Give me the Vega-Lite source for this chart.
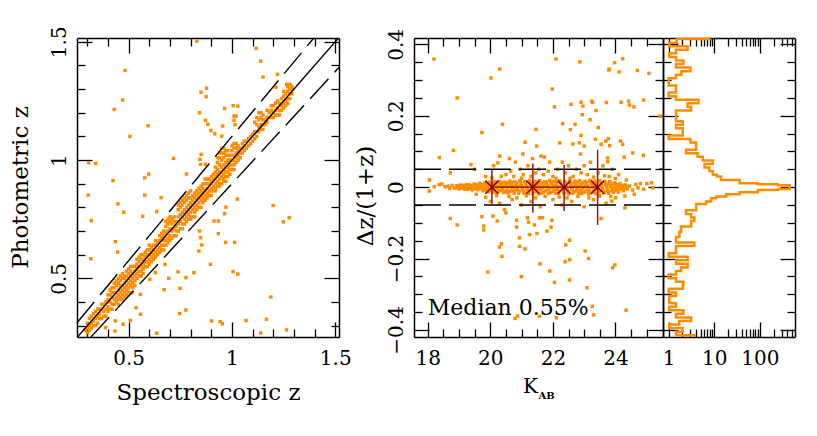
{
"$schema":"https://vega.github.io/schema/vega-lite/v6.json",
"background":"white",
"padding":{"left":9,"top":25,"right":5,"bottom":5},
"bounds":"flush",
"spacing":75,
"config":{"view":{"stroke":null},"axis":{"labelFont":"DejaVu Serif","labelFontSize":20,"titleFont":"DejaVu Serif","titleFontSize":23,"titleFontWeight":"normal","titleColor":"black","labelColor":"black","domainColor":"black","tickColor":"black","domainWidth":1.5,"tickWidth":1.3,"grid":false,"labelFlush":false,"labelOverlap":false,"labelBound":false}},
"datasets":{
"left":[
{"x":0.83,"y":1.503},{"x":1.117,"y":1.472},{"x":1.139,"y":1.418},{"x":1.15,"y":1.351},{"x":1.22,"y":1.362},{"x":1.213,"y":1.308},{"x":1.265,"y":1.32},{"x":0.482,"y":1.379},{"x":0.471,"y":1.254},{"x":0.43,"y":1.214},{"x":0.85,"y":1.287},{"x":0.877,"y":1.303},{"x":0.875,"y":1.268},{"x":0.843,"y":1.2},{"x":0.872,"y":1.168},{"x":0.883,"y":1.151},{"x":0.898,"y":1.125},{"x":0.917,"y":1.111},{"x":0.955,"y":1.144},{"x":0.95,"y":1.101},{"x":0.964,"y":1.218},{"x":1.006,"y":1.23},{"x":1.029,"y":1.228},{"x":1.01,"y":1.186},{"x":1.02,"y":1.186},{"x":1.01,"y":1.168},{"x":1.015,"y":1.15},{"x":0.594,"y":1.145},{"x":0.506,"y":1.1},{"x":0.306,"y":0.989},{"x":0.34,"y":0.986},{"x":0.424,"y":0.913},{"x":0.304,"y":0.852},{"x":0.448,"y":0.815},{"x":0.476,"y":0.779},{"x":0.319,"y":0.744},{"x":0.317,"y":0.583},{"x":0.435,"y":0.655},{"x":0.447,"y":0.611},{"x":0.578,"y":0.925},{"x":0.597,"y":0.941},{"x":0.578,"y":0.852},{"x":0.568,"y":0.762},{"x":0.636,"y":0.782},{"x":0.657,"y":0.841},{"x":0.717,"y":1.007},{"x":0.78,"y":0.941},{"x":0.845,"y":1.003},{"x":0.848,"y":0.982},{"x":0.872,"y":0.982},{"x":0.851,"y":1.024},
{"x":1.199,"y":0.808},{"x":1.277,"y":0.756},{"x":1.249,"y":0.739},{"x":1.026,"y":0.835},{"x":0.971,"y":0.801},{"x":0.964,"y":0.773},{"x":0.913,"y":0.742},{"x":0.935,"y":0.742},{"x":0.934,"y":0.689},{"x":0.969,"y":0.652},{"x":1.013,"y":0.652},{"x":0.843,"y":0.7},{"x":0.848,"y":0.672},{"x":0.84,"y":0.615},{"x":0.854,"y":0.641},{"x":0.896,"y":0.559},{"x":1.005,"y":0.528},{"x":1.028,"y":0.518},{"x":0.739,"y":0.527},{"x":0.816,"y":0.524},{"x":0.777,"y":0.503},{"x":0.694,"y":0.5},{"x":0.748,"y":0.458},{"x":0.672,"y":0.452},{"x":0.676,"y":0.559},{"x":1.188,"y":0.421},{"x":0.777,"y":0.366},{"x":0.746,"y":0.351},{"x":0.901,"y":0.32},{"x":0.943,"y":0.317},{"x":0.953,"y":0.308},{"x":1.068,"y":0.322},{"x":1.167,"y":0.327},{"x":1.139,"y":0.269},{"x":1.264,"y":0.282},{"x":0.636,"y":0.268},{"x":0.434,"y":0.277},{"x":0.508,"y":0.322},{"x":0.473,"y":0.306},{"x":0.557,"y":0.348},{"x":0.536,"y":0.376},{"x":0.435,"y":0.32},{"x":0.388,"y":0.292},{"x":0.602,"y":0.496},{"x":0.629,"y":0.524},{"x":0.557,"y":0.432},{"x":0.516,"y":0.439},
{"x":0.29,"y":0.28},{"x":0.30,"y":0.31},{"x":0.30,"y":0.29},{"x":0.31,"y":0.33},{"x":0.31,"y":0.30},{"x":0.32,"y":0.31},{"x":0.32,"y":0.34},{"x":0.33,"y":0.32},{"x":0.33,"y":0.30},{"x":0.34,"y":0.36},{"x":0.34,"y":0.33},{"x":0.35,"y":0.34},{"x":0.35,"y":0.31},{"x":0.36,"y":0.37},{"x":0.36,"y":0.35},{"x":0.37,"y":0.33},{"x":0.37,"y":0.37},{"x":0.38,"y":0.36},{"x":0.38,"y":0.39},{"x":0.39,"y":0.34},{"x":0.39,"y":0.40},{"x":0.40,"y":0.38},{"x":0.40,"y":0.41},{"x":0.41,"y":0.40},{"x":0.41,"y":0.43},{"x":0.42,"y":0.39},{"x":0.42,"y":0.44},{"x":0.42,"y":0.42},{"x":0.43,"y":0.41},{"x":0.43,"y":0.44},{"x":0.43,"y":0.46},{"x":0.44,"y":0.42},{"x":0.44,"y":0.44},{"x":0.44,"y":0.47},{"x":0.45,"y":0.43},{"x":0.45,"y":0.45},{"x":0.45,"y":0.41},{"x":0.45,"y":0.48},{"x":0.46,"y":0.44},{"x":0.46,"y":0.46},{"x":0.46,"y":0.49},{"x":0.47,"y":0.45},{"x":0.47,"y":0.47},{"x":0.47,"y":0.43},{"x":0.47,"y":0.50},{"x":0.48,"y":0.46},{"x":0.48,"y":0.48},{"x":0.48,"y":0.44},{"x":0.49,"y":0.47},{"x":0.49,"y":0.49},{"x":0.49,"y":0.51},{"x":0.50,"y":0.48},{"x":0.50,"y":0.50},{"x":0.50,"y":0.52},{"x":0.51,"y":0.49},{"x":0.51,"y":0.51},{"x":0.51,"y":0.53},{"x":0.52,"y":0.50},{"x":0.52,"y":0.52},{"x":0.52,"y":0.55},{"x":0.53,"y":0.51},{"x":0.53,"y":0.53},{"x":0.53,"y":0.49},{"x":0.54,"y":0.52},{"x":0.54,"y":0.54},{"x":0.54,"y":0.56},{"x":0.55,"y":0.53},{"x":0.55,"y":0.55},{"x":0.55,"y":0.57},{"x":0.56,"y":0.55},{"x":0.56,"y":0.53},{"x":0.56,"y":0.58},{"x":0.57,"y":0.56},{"x":0.57,"y":0.58},{"x":0.57,"y":0.54},{"x":0.58,"y":0.57},{"x":0.58,"y":0.59},{"x":0.59,"y":0.57},{"x":0.59,"y":0.60},{"x":0.60,"y":0.58},{"x":0.60,"y":0.60},{"x":0.60,"y":0.62},{"x":0.61,"y":0.59},{"x":0.61,"y":0.61},{"x":0.62,"y":0.60},{"x":0.62,"y":0.62},{"x":0.63,"y":0.61},{"x":0.63,"y":0.64},{"x":0.64,"y":0.62},{"x":0.64,"y":0.65},{"x":0.65,"y":0.63},{"x":0.65,"y":0.66},{"x":0.66,"y":0.64},{"x":0.66,"y":0.67},{"x":0.66,"y":0.62},{"x":0.67,"y":0.66},{"x":0.67,"y":0.68},{"x":0.67,"y":0.64},{"x":0.68,"y":0.66},{"x":0.68,"y":0.69},{"x":0.68,"y":0.72},{"x":0.69,"y":0.67},{"x":0.69,"y":0.70},{"x":0.69,"y":0.73},{"x":0.70,"y":0.68},{"x":0.70,"y":0.71},{"x":0.70,"y":0.74},{"x":0.71,"y":0.70},{"x":0.71,"y":0.73},{"x":0.72,"y":0.71},{"x":0.72,"y":0.74},{"x":0.73,"y":0.70},{"x":0.73,"y":0.72},{"x":0.74,"y":0.73},{"x":0.74,"y":0.76},{"x":0.74,"y":0.79},{"x":0.75,"y":0.74},{"x":0.75,"y":0.77},{"x":0.75,"y":0.80},{"x":0.76,"y":0.73},{"x":0.76,"y":0.76},{"x":0.76,"y":0.78},{"x":0.76,"y":0.81},{"x":0.77,"y":0.75},{"x":0.77,"y":0.77},{"x":0.77,"y":0.79},{"x":0.77,"y":0.82},{"x":0.78,"y":0.76},{"x":0.78,"y":0.78},{"x":0.78,"y":0.80},{"x":0.78,"y":0.83},{"x":0.79,"y":0.77},{"x":0.79,"y":0.79},{"x":0.79,"y":0.81},{"x":0.79,"y":0.84},{"x":0.80,"y":0.78},{"x":0.80,"y":0.80},{"x":0.80,"y":0.82},{"x":0.80,"y":0.75},{"x":0.81,"y":0.79},{"x":0.81,"y":0.81},{"x":0.81,"y":0.83},{"x":0.82,"y":0.80},{"x":0.82,"y":0.82},{"x":0.82,"y":0.78},{"x":0.83,"y":0.81},{"x":0.83,"y":0.83},{"x":0.83,"y":0.85},{"x":0.84,"y":0.82},{"x":0.84,"y":0.84},{"x":0.84,"y":0.86},{"x":0.85,"y":0.83},{"x":0.85,"y":0.85},{"x":0.85,"y":0.87},{"x":0.85,"y":0.80},{"x":0.86,"y":0.84},{"x":0.86,"y":0.86},{"x":0.86,"y":0.88},{"x":0.87,"y":0.85},{"x":0.87,"y":0.87},{"x":0.87,"y":0.90},{"x":0.88,"y":0.86},{"x":0.88,"y":0.88},{"x":0.89,"y":0.87},{"x":0.89,"y":0.90},{"x":0.90,"y":0.88},{"x":0.90,"y":0.91},{"x":0.90,"y":0.85},{"x":0.91,"y":0.89},{"x":0.91,"y":0.92},{"x":0.92,"y":0.90},{"x":0.92,"y":0.93},{"x":0.92,"y":0.87},{"x":0.93,"y":0.91},{"x":0.93,"y":0.94},{"x":0.93,"y":0.96},{"x":0.93,"y":0.99},{"x":0.94,"y":0.92},{"x":0.94,"y":0.95},{"x":0.94,"y":0.98},{"x":0.94,"y":1.01},{"x":0.94,"y":0.89},{"x":0.95,"y":0.93},{"x":0.95,"y":0.95},{"x":0.95,"y":0.97},{"x":0.95,"y":1.00},{"x":0.95,"y":1.03},{"x":0.95,"y":0.90},{"x":0.96,"y":0.94},{"x":0.96,"y":0.96},{"x":0.96,"y":0.98},{"x":0.96,"y":1.01},{"x":0.96,"y":0.91},{"x":0.97,"y":0.95},{"x":0.97,"y":0.97},{"x":0.97,"y":0.99},{"x":0.97,"y":1.02},{"x":0.97,"y":0.93},{"x":0.98,"y":0.97},{"x":0.98,"y":0.99},{"x":0.98,"y":0.95},{"x":0.98,"y":1.00},{"x":0.99,"y":0.98},{"x":0.99,"y":1.00},{"x":0.99,"y":0.96},{"x":1.00,"y":0.98},{"x":1.00,"y":1.00},{"x":1.00,"y":1.02},{"x":1.00,"y":1.04},{"x":1.01,"y":1.00},{"x":1.01,"y":1.02},{"x":1.01,"y":1.05},{"x":1.01,"y":0.98},{"x":1.02,"y":1.01},{"x":1.02,"y":1.03},{"x":1.02,"y":0.99},{"x":1.03,"y":1.02},{"x":1.03,"y":1.04},{"x":1.04,"y":1.03},{"x":1.05,"y":1.05},{"x":1.05,"y":1.03},{"x":1.06,"y":1.06},{"x":1.07,"y":1.08},{"x":1.07,"y":1.05},{"x":1.08,"y":1.09},{"x":1.09,"y":1.07},{"x":1.10,"y":1.11},{"x":1.10,"y":1.08},{"x":1.11,"y":1.12},{"x":1.11,"y":1.16},{"x":1.12,"y":1.12},{"x":1.12,"y":1.15},{"x":1.12,"y":1.18},{"x":1.13,"y":1.14},{"x":1.13,"y":1.17},{"x":1.13,"y":1.20},{"x":1.14,"y":1.15},{"x":1.14,"y":1.13},{"x":1.14,"y":1.18},{"x":1.15,"y":1.15},{"x":1.15,"y":1.19},{"x":1.16,"y":1.17},{"x":1.17,"y":1.18},{"x":1.18,"y":1.20},{"x":1.19,"y":1.21},{"x":1.20,"y":1.20},{"x":1.20,"y":1.18},{"x":1.21,"y":1.21},{"x":1.21,"y":1.19},{"x":1.22,"y":1.22},{"x":1.22,"y":1.25},{"x":1.23,"y":1.21},{"x":1.23,"y":1.24},{"x":1.24,"y":1.23},{"x":1.24,"y":1.26},{"x":1.25,"y":1.24},{"x":1.25,"y":1.27},{"x":1.26,"y":1.25},{"x":1.26,"y":1.28},{"x":1.27,"y":1.26},{"x":1.27,"y":1.29},{"x":1.28,"y":1.30},{"x":1.28,"y":1.28},{"x":1.29,"y":1.31},{"x":1.29,"y":1.28},
{"x":0.30,"y":0.27},{"x":0.31,"y":0.28},{"x":0.32,"y":0.29},{"x":0.33,"y":0.35},{"x":0.34,"y":0.30},{"x":0.35,"y":0.37},{"x":0.36,"y":0.33},{"x":0.37,"y":0.39},{"x":0.38,"y":0.34},{"x":0.39,"y":0.37},{"x":0.40,"y":0.36},{"x":0.40,"y":0.43},{"x":0.41,"y":0.37},{"x":0.41,"y":0.45},{"x":0.42,"y":0.37},{"x":0.42,"y":0.46},{"x":0.43,"y":0.39},{"x":0.43,"y":0.48},{"x":0.44,"y":0.40},{"x":0.44,"y":0.49},{"x":0.45,"y":0.39},{"x":0.45,"y":0.50},{"x":0.46,"y":0.41},{"x":0.46,"y":0.42},{"x":0.46,"y":0.47},{"x":0.46,"y":0.51},{"x":0.47,"y":0.41},{"x":0.47,"y":0.52},{"x":0.48,"y":0.42},{"x":0.48,"y":0.51},{"x":0.48,"y":0.50},{"x":0.49,"y":0.43},{"x":0.49,"y":0.45},{"x":0.49,"y":0.53},{"x":0.50,"y":0.44},{"x":0.50,"y":0.46},{"x":0.50,"y":0.54},{"x":0.51,"y":0.47},{"x":0.51,"y":0.55},{"x":0.52,"y":0.48},{"x":0.52,"y":0.46},{"x":0.53,"y":0.47},{"x":0.53,"y":0.55},{"x":0.54,"y":0.50},{"x":0.54,"y":0.58},{"x":0.55,"y":0.51},{"x":0.55,"y":0.59},{"x":0.56,"y":0.51},{"x":0.56,"y":0.60},{"x":0.57,"y":0.52},{"x":0.57,"y":0.60},{"x":0.58,"y":0.55},{"x":0.58,"y":0.61},{"x":0.59,"y":0.55},{"x":0.59,"y":0.62},{"x":0.60,"y":0.56},{"x":0.60,"y":0.64},{"x":0.61,"y":0.57},{"x":0.61,"y":0.63},{"x":0.62,"y":0.58},{"x":0.62,"y":0.64},{"x":0.63,"y":0.59},{"x":0.63,"y":0.66},{"x":0.64,"y":0.60},{"x":0.65,"y":0.61},{"x":0.65,"y":0.68},{"x":0.66,"y":0.69},{"x":0.67,"y":0.62},{"x":0.67,"y":0.70},{"x":0.68,"y":0.64},{"x":0.68,"y":0.74},{"x":0.69,"y":0.65},{"x":0.69,"y":0.75},{"x":0.70,"y":0.66},{"x":0.70,"y":0.76},{"x":0.71,"y":0.67},{"x":0.71,"y":0.75},{"x":0.72,"y":0.68},{"x":0.72,"y":0.76},{"x":0.73,"y":0.74},{"x":0.73,"y":0.68},{"x":0.74,"y":0.70},{"x":0.74,"y":0.81},{"x":0.75,"y":0.71},{"x":0.75,"y":0.82},{"x":0.76,"y":0.71},{"x":0.76,"y":0.83},{"x":0.77,"y":0.73},{"x":0.77,"y":0.84},{"x":0.78,"y":0.74},{"x":0.78,"y":0.85},{"x":0.79,"y":0.75},{"x":0.79,"y":0.86},{"x":0.80,"y":0.76},{"x":0.80,"y":0.84},{"x":0.80,"y":0.87},{"x":0.81,"y":0.76},{"x":0.81,"y":0.85},{"x":0.82,"y":0.76},{"x":0.82,"y":0.84},{"x":0.82,"y":0.86},{"x":0.83,"y":0.79},{"x":0.83,"y":0.87},{"x":0.84,"y":0.80},{"x":0.84,"y":0.88},{"x":0.85,"y":0.89},{"x":0.86,"y":0.82},{"x":0.86,"y":0.90},{"x":0.87,"y":0.83},{"x":0.87,"y":0.92},{"x":0.88,"y":0.84},{"x":0.88,"y":0.90},{"x":0.88,"y":0.92},{"x":0.89,"y":0.85},{"x":0.89,"y":0.92},{"x":0.90,"y":0.87},{"x":0.90,"y":0.93},{"x":0.91,"y":0.87},{"x":0.91,"y":0.94},{"x":0.92,"y":0.88},{"x":0.92,"y":0.95},{"x":0.92,"y":0.97},{"x":0.93,"y":0.89},{"x":0.93,"y":1.01},{"x":0.94,"y":1.03},{"x":0.94,"y":0.90},{"x":0.95,"y":1.05},{"x":0.96,"y":1.03},{"x":0.96,"y":1.05},{"x":0.96,"y":0.92},{"x":0.97,"y":1.04},{"x":0.97,"y":0.91},{"x":0.98,"y":1.02},{"x":0.98,"y":1.04},{"x":0.98,"y":0.93},{"x":0.99,"y":1.02},{"x":0.99,"y":0.94},{"x":1.00,"y":1.06},{"x":1.00,"y":0.96},{"x":1.01,"y":1.07},{"x":1.01,"y":0.96},{"x":1.02,"y":1.05},{"x":1.02,"y":1.07},{"x":1.03,"y":1.00},{"x":1.03,"y":1.06},{"x":1.04,"y":1.05},{"x":1.04,"y":1.01},{"x":1.05,"y":1.07},{"x":1.06,"y":1.04},{"x":1.06,"y":1.08},{"x":1.08,"y":1.06},{"x":1.09,"y":1.10},{"x":1.11,"y":1.09},{"x":1.12,"y":1.10},{"x":1.13,"y":1.12},{"x":1.14,"y":1.20},{"x":1.15,"y":1.13},{"x":1.15,"y":1.17},{"x":1.16,"y":1.15},{"x":1.17,"y":1.16},{"x":1.17,"y":1.21},{"x":1.18,"y":1.18},{"x":1.19,"y":1.18},{"x":1.19,"y":1.23},{"x":1.20,"y":1.23},{"x":1.21,"y":1.24},{"x":1.22,"y":1.19},{"x":1.23,"y":1.19},{"x":1.24,"y":1.21},{"x":1.25,"y":1.22},{"x":1.25,"y":1.29},{"x":1.26,"y":1.23},{"x":1.27,"y":1.24},{"x":1.27,"y":1.31},{"x":1.28,"y":1.26},{"x":1.28,"y":1.32},{"x":1.29,"y":1.30}
],
"mid":[
{"x":18.2,"y":0.359},{"x":20.02,"y":0.306},{"x":20.3,"y":0.331},{"x":18.94,"y":0.25},{"x":22.1,"y":0.359},{"x":22.86,"y":0.351},{"x":21.98,"y":0.275},{"x":23.79,"y":0.328},{"x":23.8,"y":0.331},{"x":23.97,"y":0.349},{"x":24.23,"y":0.36},{"x":24.12,"y":0.323},{"x":24.7,"y":0.327},{"x":25.07,"y":0.319},{"x":22.05,"y":0.225},{"x":22.58,"y":0.232},{"x":22.9,"y":0.238},{"x":22.96,"y":0.227},{"x":23.24,"y":0.241},{"x":23.27,"y":0.238},{"x":23.38,"y":0.215},{"x":23.71,"y":0.237},{"x":24.18,"y":0.238},{"x":24.42,"y":0.241},{"x":24.44,"y":0.23},{"x":24.59,"y":0.225},{"x":24.9,"y":0.244},{"x":25.43,"y":0.199},{"x":22.94,"y":0.203},{"x":23.19,"y":0.189},{"x":22.31,"y":0.178},{"x":22.71,"y":0.176},{"x":22.56,"y":0.161},{"x":21.46,"y":0.162},{"x":20.39,"y":0.176},{"x":19.73,"y":0.153},{"x":23.45,"y":0.167},{"x":22.9,"y":0.145},{"x":22.22,"y":0.124},{"x":22.85,"y":0.124},{"x":22.64,"y":0.121},{"x":23.0,"y":0.115},{"x":21.11,"y":0.126},{"x":21.48,"y":0.115},{"x":23.36,"y":0.134},{"x":23.54,"y":0.12},{"x":23.77,"y":0.136},{"x":23.69,"y":0.129},{"x":23.81,"y":0.116},{"x":24.16,"y":0.129},{"x":24.23,"y":0.12},{"x":18.82,"y":0.103},{"x":18.37,"y":0.083},{"x":21.04,"y":0.093},{"x":21.62,"y":0.087},{"x":21.73,"y":0.084},{"x":22.88,"y":0.093},{"x":24.55,"y":0.096},{"x":24.89,"y":0.089},{"x":24.28,"y":0.084},{"x":23.75,"y":0.082},{"x":23.75,"y":0.071},{"x":20.3,"y":0.087},{"x":20.24,"y":0.068},{"x":20.61,"y":0.08},{"x":19.38,"y":0.063},
{"x":19.5,"y":0.05},{"x":18.72,"y":0.04},{"x":19.85,"y":0.03},{"x":20.1,"y":0.06},{"x":20.8,"y":0.07},{"x":20.95,"y":0.05},{"x":21.2,"y":0.06},{"x":21.35,"y":0.08},{"x":21.55,"y":0.05},{"x":21.9,"y":0.07},{"x":22.15,"y":0.05},{"x":22.3,"y":0.07},{"x":22.5,"y":0.06},{"x":22.75,"y":0.05},{"x":23.0,"y":0.06},{"x":23.2,"y":0.07},{"x":23.6,"y":0.06},{"x":23.9,"y":0.05},{"x":24.1,"y":0.035},{"x":20.5,"y":0.035},{"x":20.75,"y":0.03},{"x":21.05,"y":0.035},{"x":21.3,"y":0.03},{"x":21.7,"y":0.035},{"x":22.0,"y":0.03},{"x":22.4,"y":0.04},{"x":22.65,"y":0.03},{"x":23.1,"y":0.035},{"x":23.45,"y":0.04},{"x":23.8,"y":0.03},{"x":20.0,"y":-0.04},{"x":20.3,"y":-0.045},{"x":20.7,"y":-0.035},{"x":21.0,"y":-0.05},{"x":21.3,"y":-0.04},{"x":21.6,"y":-0.055},{"x":22.0,"y":-0.035},{"x":22.3,"y":-0.05},{"x":22.6,"y":-0.04},{"x":23.0,"y":-0.055},{"x":23.3,"y":-0.035},{"x":23.7,"y":-0.045},{"x":24.0,"y":-0.03},{"x":24.3,"y":-0.025},{"x":24.6,"y":-0.02},
{"x":18.72,"y":-0.088},{"x":18.94,"y":-0.106},{"x":19.79,"y":-0.109},{"x":19.79,"y":-0.12},{"x":19.73,"y":-0.083},{"x":20.08,"y":-0.081},{"x":20.22,"y":-0.095},{"x":20.45,"y":-0.063},{"x":20.5,"y":-0.072},{"x":20.84,"y":-0.093},{"x":20.84,"y":-0.112},{"x":21.19,"y":-0.086},{"x":21.22,"y":-0.098},{"x":21.41,"y":-0.106},{"x":21.57,"y":-0.086},{"x":21.67,"y":-0.086},{"x":21.81,"y":-0.123},{"x":21.49,"y":-0.13},{"x":21.97,"y":-0.093},{"x":21.94,"y":-0.112},{"x":20.93,"y":-0.142},{"x":21.25,"y":-0.133},{"x":20.35,"y":-0.159},{"x":20.29,"y":-0.168},{"x":20.93,"y":-0.166},{"x":21.11,"y":-0.173},{"x":20.37,"y":-0.194},{"x":22.53,"y":-0.149},{"x":22.41,"y":-0.162},{"x":23.03,"y":-0.179},{"x":23.14,"y":-0.2},{"x":22.54,"y":-0.203},{"x":22.39,"y":-0.209},{"x":21.59,"y":-0.215},{"x":23.98,"y":-0.218},{"x":23.91,"y":-0.226},{"x":21.9,"y":-0.235},{"x":19.92,"y":-0.238},{"x":20.99,"y":-0.251},{"x":22.05,"y":-0.267},{"x":22.53,"y":-0.26},{"x":23.09,"y":-0.282},{"x":23.26,"y":-0.334},{"x":23.3,"y":-0.358},{"x":24.34,"y":-0.345},{"x":20.79,"y":-0.368},{"x":20.87,"y":-0.361},{"x":21.57,"y":-0.362},{"x":22.11,"y":-0.366},{"x":23.54,"y":-0.088},{"x":24.3,"y":-0.058},{"x":23.88,"y":-0.039},
{"x":18.05,"y":0.02},{"x":18.05,"y":-0.011},{"x":18.21,"y":0.001},{"x":18.37,"y":0.007},{"x":18.45,"y":0.009},{"x":18.55,"y":0.001},
{"x":18.65,"y":0.003},{"x":18.7,"y":-0.004},{"x":18.78,"y":0.005},{"x":18.85,"y":-0.003},{"x":18.92,"y":0.004},{"x":19.0,"y":-0.005},{"x":19.05,"y":0.006},{"x":19.12,"y":0.0},{"x":19.18,"y":-0.006},{"x":19.25,"y":0.007},{"x":19.3,"y":-0.002},{"x":19.36,"y":0.003},{"x":19.42,"y":-0.008},{"x":19.48,"y":0.009},{"x":19.54,"y":0.001},{"x":19.6,"y":-0.007},{"x":19.66,"y":0.011},{"x":19.72,"y":0.002},{"x":19.76,"y":-0.01},{"x":19.82,"y":0.012},{"x":19.86,"y":0.003},{"x":19.9,"y":-0.006},{"x":19.94,"y":-0.013},{"x":19.98,"y":0.014},{"x":20.02,"y":0.005},{"x":20.05,"y":-0.004},{"x":20.1,"y":-0.014},{"x":20.14,"y":0.015},{"x":20.18,"y":0.006},{"x":20.22,"y":-0.003},{"x":20.26,"y":-0.012},{"x":20.3,"y":0.016},{"x":20.34,"y":0.007},{"x":20.38,"y":-0.005},{"x":20.42,"y":-0.015},{"x":20.46,"y":0.014},{"x":20.5,"y":0.004},{"x":20.54,"y":-0.008},{"x":20.58,"y":-0.016},{"x":20.62,"y":0.017},{"x":20.66,"y":0.008},{"x":20.7,"y":-0.002},{"x":20.74,"y":-0.012},{"x":20.78,"y":0.015},{"x":20.82,"y":0.005},{"x":20.86,"y":-0.006},{"x":20.9,"y":-0.017},{"x":20.94,"y":0.018},{"x":20.98,"y":0.009},{"x":21.02,"y":-0.001},{"x":21.06,"y":-0.012},{"x":21.1,"y":0.016},{"x":21.14,"y":0.006},{"x":21.18,"y":-0.007},{"x":21.22,"y":-0.018},{"x":21.26,"y":0.019},{"x":21.3,"y":0.01},{"x":21.34,"y":0.0},{"x":21.38,"y":-0.013},{"x":21.42,"y":0.016},{"x":21.46,"y":0.007},{"x":21.5,"y":-0.006},{"x":21.54,"y":-0.019},{"x":21.58,"y":0.018},{"x":21.62,"y":0.009},{"x":21.66,"y":-0.002},{"x":21.7,"y":-0.014},{"x":21.74,"y":0.015},{"x":21.78,"y":0.005},{"x":21.82,"y":-0.008},{"x":21.86,"y":-0.018},{"x":21.9,"y":0.019},{"x":21.94,"y":0.01},{"x":21.98,"y":0.0},{"x":22.02,"y":-0.012},{"x":22.06,"y":0.016},{"x":22.1,"y":0.006},{"x":22.14,"y":-0.006},{"x":22.18,"y":-0.018},{"x":22.22,"y":0.018},{"x":22.26,"y":0.008},{"x":22.3,"y":-0.002},{"x":22.34,"y":-0.014},{"x":22.38,"y":0.016},{"x":22.42,"y":0.005},{"x":22.46,"y":-0.008},{"x":22.5,"y":-0.019},{"x":22.54,"y":0.019},{"x":22.58,"y":0.009},{"x":22.62,"y":0.0},{"x":22.66,"y":-0.012},{"x":22.7,"y":0.017},{"x":22.74,"y":0.006},{"x":22.78,"y":-0.006},{"x":22.82,"y":-0.018},{"x":22.86,"y":0.018},{"x":22.9,"y":0.008},{"x":22.94,"y":-0.003},{"x":22.98,"y":-0.014},{"x":23.02,"y":0.016},{"x":23.06,"y":0.005},{"x":23.1,"y":-0.008},{"x":23.14,"y":-0.019},{"x":23.18,"y":0.019},{"x":23.22,"y":0.01},{"x":23.26,"y":0.0},{"x":23.3,"y":-0.013},{"x":23.34,"y":0.017},{"x":23.38,"y":0.006},{"x":23.42,"y":-0.006},{"x":23.46,"y":-0.018},{"x":23.5,"y":0.018},{"x":23.54,"y":0.008},{"x":23.58,"y":-0.003},{"x":23.62,"y":-0.016},{"x":23.66,"y":0.016},{"x":23.7,"y":0.005},{"x":23.74,"y":-0.008},{"x":23.78,"y":-0.017},{"x":23.82,"y":0.015},{"x":23.86,"y":0.005},{"x":23.9,"y":-0.006},{"x":23.94,"y":-0.014},{"x":23.98,"y":0.012},{"x":24.02,"y":0.003},{"x":24.06,"y":-0.007},{"x":24.1,"y":-0.014},{"x":24.15,"y":0.01},{"x":24.2,"y":0.001},{"x":24.25,"y":-0.01},{"x":24.32,"y":0.006},{"x":24.38,"y":-0.005},{"x":24.45,"y":0.003},{"x":24.55,"y":-0.008},{"x":24.65,"y":0.008},{"x":24.72,"y":-0.002},{"x":24.8,"y":0.01},{"x":24.9,"y":-0.006},{"x":25.0,"y":0.01},{"x":25.15,"y":0.012},{"x":25.2,"y":-0.002},
{"x":18.9,"y":-0.002},{"x":18.98,"y":0.003},{"x":19.08,"y":-0.003},{"x":19.15,"y":0.005},{"x":19.22,"y":0.002},{"x":19.28,"y":-0.006},{"x":19.33,"y":0.006},{"x":19.38,"y":-0.003},{"x":19.44,"y":0.004},{"x":19.5,"y":-0.005},{"x":19.56,"y":0.006},{"x":19.62,"y":0.003},{"x":19.68,"y":-0.004},{"x":19.74,"y":0.007},{"x":19.79,"y":-0.003},{"x":19.84,"y":-0.008},{"x":19.88,"y":0.008},{"x":19.92,"y":-0.001},{"x":19.96,"y":0.009},{"x":20.0,"y":-0.009},{"x":20.04,"y":0.012},{"x":20.08,"y":0.002},{"x":20.12,"y":-0.009},{"x":20.16,"y":0.011},{"x":20.2,"y":-0.016},{"x":20.24,"y":0.013},{"x":20.28,"y":0.002},{"x":20.32,"y":-0.009},{"x":20.36,"y":0.012},{"x":20.4,"y":0.001},{"x":20.44,"y":-0.011},{"x":20.48,"y":0.009},{"x":20.52,"y":-0.013},{"x":20.56,"y":0.012},{"x":20.6,"y":0.002},{"x":20.64,"y":-0.011},{"x":20.68,"y":0.013},{"x":20.72,"y":0.003},{"x":20.76,"y":-0.017},{"x":20.8,"y":-0.008},{"x":20.84,"y":0.012},{"x":20.88,"y":0.002},{"x":20.92,"y":-0.011},{"x":20.96,"y":0.014},{"x":21.0,"y":0.004},{"x":21.04,"y":-0.008},{"x":21.08,"y":-0.017},{"x":21.12,"y":0.012},{"x":21.16,"y":0.001},{"x":21.2,"y":-0.012},{"x":21.24,"y":0.014},{"x":21.28,"y":0.004},{"x":21.32,"y":-0.008},{"x":21.36,"y":-0.018},{"x":21.4,"y":0.011},{"x":21.44,"y":0.002},{"x":21.48,"y":-0.012},{"x":21.52,"y":0.014},{"x":21.56,"y":0.004},{"x":21.6,"y":-0.008},{"x":21.64,"y":-0.017},{"x":21.68,"y":0.012},{"x":21.72,"y":0.002},{"x":21.76,"y":-0.011},{"x":21.8,"y":0.014},{"x":21.84,"y":0.004},{"x":21.88,"y":-0.005},{"x":21.92,"y":-0.015},{"x":21.96,"y":0.015},{"x":22.0,"y":0.005},{"x":22.04,"y":-0.007},{"x":22.08,"y":-0.017},{"x":22.12,"y":0.012},{"x":22.16,"y":0.001},{"x":22.2,"y":-0.011},{"x":22.24,"y":0.014},{"x":22.28,"y":0.003},{"x":22.32,"y":-0.008},{"x":22.36,"y":-0.018},{"x":22.4,"y":0.011},{"x":22.44,"y":0.001},{"x":22.48,"y":-0.013},{"x":22.52,"y":0.013},{"x":22.56,"y":0.004},{"x":22.6,"y":-0.007},{"x":22.64,"y":-0.017},{"x":22.68,"y":0.012},{"x":22.72,"y":0.002},{"x":22.76,"y":-0.011},{"x":22.8,"y":0.014},{"x":22.84,"y":0.003},{"x":22.88,"y":-0.009},{"x":22.92,"y":-0.018},{"x":22.96,"y":0.012},{"x":23.0,"y":0.001},{"x":23.04,"y":-0.012},{"x":23.08,"y":0.013},{"x":23.12,"y":0.003},{"x":23.16,"y":-0.008},{"x":23.2,"y":-0.016},{"x":23.24,"y":0.014},{"x":23.28,"y":0.004},{"x":23.32,"y":-0.007},{"x":23.36,"y":-0.018},{"x":23.4,"y":0.012},{"x":23.44,"y":0.002},{"x":23.48,"y":-0.011},{"x":23.52,"y":0.013},{"x":23.56,"y":0.003},{"x":23.6,"y":-0.009},{"x":23.64,"y":-0.015},{"x":23.68,"y":0.011},{"x":23.72,"y":0.001},{"x":23.76,"y":-0.012},{"x":23.8,"y":0.01},{"x":23.84,"y":0.001},{"x":23.88,"y":-0.011},{"x":23.92,"y":0.009},{"x":23.96,"y":-0.002},{"x":24.0,"y":-0.01},{"x":24.04,"y":0.007},{"x":24.08,"y":-0.002},{"x":24.12,"y":0.006},{"x":24.18,"y":-0.006},{"x":24.23,"y":0.005},{"x":24.28,"y":-0.003},{"x":24.35,"y":0.001},
{"x":19.55,"y":-0.02},{"x":19.85,"y":-0.028},{"x":20.2,"y":-0.024},{"x":20.6,"y":-0.026},{"x":20.85,"y":-0.03},{"x":21.15,"y":-0.024},{"x":21.45,"y":-0.03},{"x":21.75,"y":-0.026},{"x":22.2,"y":-0.028},{"x":22.45,"y":-0.03},{"x":22.8,"y":-0.026},{"x":23.15,"y":-0.03},{"x":23.5,"y":-0.025},{"x":23.85,"y":-0.026},{"x":20.05,"y":0.026},{"x":20.35,"y":0.03},{"x":20.65,"y":0.045},{"x":21.0,"y":0.025},{"x":21.45,"y":0.04},{"x":21.85,"y":0.045},{"x":22.1,"y":0.024},{"x":22.55,"y":0.025},{"x":22.9,"y":0.04},{"x":23.3,"y":0.028},{"x":23.65,"y":0.032},{"x":24.0,"y":0.024},{"x":24.35,"y":0.02}
],
"hist":[
{"i":1,"y":0.42,"c":7.8},{"i":2,"y":0.415,"c":7.8},{"i":3,"y":0.415,"c":1.5},{"i":4,"y":0.405,"c":1.5},{"i":5,"y":0.405,"c":1.03},{"i":6,"y":0.395,"c":1.03},{"i":7,"y":0.395,"c":2.6},{"i":8,"y":0.385,"c":2.6},{"i":9,"y":0.385,"c":1.45},{"i":10,"y":0.375,"c":1.45},{"i":11,"y":0.375,"c":1.03},{"i":12,"y":0.365,"c":1.03},{"i":13,"y":0.365,"c":1.45},{"i":14,"y":0.355,"c":1.45},{"i":15,"y":0.355,"c":2.1},{"i":16,"y":0.345,"c":2.1},{"i":17,"y":0.345,"c":1.45},{"i":18,"y":0.335,"c":1.45},{"i":19,"y":0.335,"c":3.0},{"i":20,"y":0.325,"c":3.0},{"i":21,"y":0.325,"c":1.9},{"i":22,"y":0.315,"c":1.9},{"i":23,"y":0.315,"c":1.45},{"i":24,"y":0.305,"c":1.45},{"i":25,"y":0.305,"c":1.0},{"i":26,"y":0.285,"c":1.0},{"i":27,"y":0.285,"c":1.45},{"i":28,"y":0.265,"c":1.45},{"i":29,"y":0.265,"c":1.0},{"i":30,"y":0.255,"c":1.0},{"i":31,"y":0.255,"c":1.45},{"i":32,"y":0.245,"c":1.45},{"i":33,"y":0.245,"c":4.5},{"i":34,"y":0.235,"c":4.5},{"i":35,"y":0.235,"c":2.6},{"i":36,"y":0.225,"c":2.6},{"i":37,"y":0.225,"c":3.1},{"i":38,"y":0.215,"c":3.1},{"i":39,"y":0.215,"c":1.45},{"i":40,"y":0.185,"c":1.45},{"i":41,"y":0.185,"c":2.03},{"i":42,"y":0.175,"c":2.03},{"i":43,"y":0.175,"c":1.45},{"i":44,"y":0.165,"c":1.45},{"i":45,"y":0.165,"c":2.03},{"i":46,"y":0.145,"c":2.03},{"i":47,"y":0.145,"c":1.0},{"i":48,"y":0.135,"c":1.0},{"i":49,"y":0.135,"c":3.0},{"i":50,"y":0.125,"c":3.0},{"i":51,"y":0.125,"c":4.0},{"i":52,"y":0.105,"c":4.0},{"i":53,"y":0.105,"c":2.4},{"i":54,"y":0.095,"c":2.4},{"i":55,"y":0.095,"c":4.3},{"i":56,"y":0.085,"c":4.3},{"i":57,"y":0.085,"c":5.6},{"i":58,"y":0.075,"c":5.6},{"i":59,"y":0.075,"c":9.3},{"i":60,"y":0.065,"c":9.3},{"i":61,"y":0.065,"c":6.1},{"i":62,"y":0.055,"c":6.1},{"i":63,"y":0.055,"c":7.8},{"i":64,"y":0.045,"c":7.8},{"i":65,"y":0.045,"c":9.3},{"i":66,"y":0.035,"c":9.3},{"i":67,"y":0.035,"c":11.4},{"i":68,"y":0.03,"c":11.4},{"i":69,"y":0.03,"c":14},{"i":70,"y":0.02,"c":14},{"i":71,"y":0.02,"c":36},{"i":72,"y":0.011,"c":36},{"i":73,"y":0.011,"c":90},{"i":74,"y":0.008,"c":90},{"i":75,"y":0.008,"c":248},{"i":76,"y":0.005,"c":248},{"i":77,"y":0.005,"c":449},{"i":78,"y":-0.005,"c":449},{"i":79,"y":-0.005,"c":248},{"i":80,"y":-0.008,"c":248},{"i":81,"y":-0.008,"c":90},{"i":82,"y":-0.014,"c":90},{"i":83,"y":-0.014,"c":36},{"i":84,"y":-0.02,"c":36},{"i":85,"y":-0.02,"c":18.2},{"i":86,"y":-0.026,"c":18.2},{"i":87,"y":-0.026,"c":11},{"i":88,"y":-0.031,"c":11},{"i":89,"y":-0.031,"c":8.5},{"i":90,"y":-0.04,"c":8.5},{"i":91,"y":-0.04,"c":6.6},{"i":92,"y":-0.047,"c":6.6},{"i":93,"y":-0.047,"c":4},{"i":94,"y":-0.065,"c":4},{"i":95,"y":-0.065,"c":2.4},{"i":96,"y":-0.075,"c":2.4},{"i":97,"y":-0.075,"c":3.1},{"i":98,"y":-0.085,"c":3.1},{"i":99,"y":-0.085,"c":3.66},{"i":100,"y":-0.095,"c":3.66},{"i":101,"y":-0.095,"c":3.1},{"i":102,"y":-0.11,"c":3.1},{"i":103,"y":-0.11,"c":1.87},{"i":104,"y":-0.125,"c":1.87},{"i":105,"y":-0.125,"c":1.72},{"i":106,"y":-0.14,"c":1.72},{"i":107,"y":-0.14,"c":1.45},{"i":108,"y":-0.155,"c":1.45},{"i":109,"y":-0.155,"c":3.66},{"i":110,"y":-0.165,"c":3.66},{"i":111,"y":-0.165,"c":1.45},{"i":112,"y":-0.185,"c":1.45},{"i":113,"y":-0.185,"c":1.0},{"i":114,"y":-0.195,"c":1.0},{"i":115,"y":-0.195,"c":2.6},{"i":116,"y":-0.205,"c":2.6},{"i":117,"y":-0.205,"c":1.45},{"i":118,"y":-0.215,"c":1.45},{"i":119,"y":-0.215,"c":2.6},{"i":120,"y":-0.225,"c":2.6},{"i":121,"y":-0.225,"c":1.87},{"i":122,"y":-0.235,"c":1.87},{"i":123,"y":-0.235,"c":1.45},{"i":124,"y":-0.245,"c":1.45},{"i":125,"y":-0.245,"c":1.0},{"i":126,"y":-0.255,"c":1.0},{"i":127,"y":-0.255,"c":1.45},{"i":128,"y":-0.265,"c":1.45},{"i":129,"y":-0.265,"c":2.1},{"i":130,"y":-0.275,"c":2.1},{"i":131,"y":-0.275,"c":2.03},{"i":132,"y":-0.285,"c":2.03},{"i":133,"y":-0.285,"c":1.0},{"i":134,"y":-0.295,"c":1.0},{"i":135,"y":-0.295,"c":1.45},{"i":136,"y":-0.305,"c":1.45},{"i":137,"y":-0.305,"c":1.03},{"i":138,"y":-0.325,"c":1.03},{"i":139,"y":-0.325,"c":1.45},{"i":140,"y":-0.335,"c":1.45},{"i":141,"y":-0.335,"c":1.03},{"i":142,"y":-0.345,"c":1.03},{"i":143,"y":-0.345,"c":2.1},{"i":144,"y":-0.355,"c":2.1},{"i":145,"y":-0.355,"c":1.45},{"i":146,"y":-0.365,"c":1.45},{"i":147,"y":-0.365,"c":3.1},{"i":148,"y":-0.375,"c":3.1},{"i":149,"y":-0.375,"c":1.7},{"i":150,"y":-0.385,"c":1.7},{"i":151,"y":-0.385,"c":1.03},{"i":152,"y":-0.395,"c":1.03},{"i":153,"y":-0.395,"c":2.03},{"i":154,"y":-0.405,"c":2.03},{"i":155,"y":-0.405,"c":1.45},{"i":156,"y":-0.415,"c":1.45},{"i":157,"y":-0.415,"c":3.66},{"i":158,"y":-0.42,"c":3.66}
]
},
"hconcat":[
{"width":262,"height":299,"layer":[
{"data":{"name":"left"},"mark":{"type":"square","size":12,"color":"#FF8C00","opacity":1},
"encoding":{"x":{"field":"x","type":"quantitative","scale":{"domain":[0.25,1.518],"nice":false},"axis":{"orient":"bottom","values":[0.5,1,1.5],"format":"~g","tickSize":-15,"labelPadding":26,"title":"Spectroscopic z","titleX":131,"titleY":55,"titleBaseline":"middle"}},
"y":{"field":"y","type":"quantitative","scale":{"domain":[0.252,1.516],"nice":false},"axis":{"orient":"left","values":[0.5,1,1.5],"format":"~g","tickSize":-15,"labelAngle":-90,"labelAlign":"center","labelBaseline":"bottom","labelPadding":23,"title":"Photometric z","titleX":-57,"titleY":149,"titleBaseline":"middle","titleAngle":-90}}}},
{"data":{"values":[{"x":0.25,"y":0.3125},{"x":1.396,"y":1.516}]},"mark":{"type":"line","color":"black","strokeWidth":1.4,"strokeDash":[27,9]},
"encoding":{"x":{"field":"x","type":"quantitative","scale":{"domain":[0.25,1.518],"nice":false},"axis":{"orient":"top","values":[0.5,1,1.5],"tickSize":-15,"labels":false,"title":null}},
"y":{"field":"y","type":"quantitative","scale":{"domain":[0.252,1.516],"nice":false},"axis":{"orient":"right","values":[0.5,1,1.5],"tickSize":-15,"labels":false,"title":null}}}},
{"data":{"values":[{"x":0.25,"y":0.25},{"x":1.516,"y":1.516}]},"mark":{"type":"line","color":"black","strokeWidth":1.4,"clip":true},
"encoding":{"x":{"field":"x","type":"quantitative","scale":{"domain":[0.25,1.518],"nice":false},"axis":{"orient":"bottom","values":[0.3,0.4,0.6,0.7,0.8,0.9,1.1,1.2,1.3,1.4],"tickSize":-8,"labels":false,"domain":false,"title":null}},
"y":{"field":"y","type":"quantitative","scale":{"domain":[0.252,1.516],"nice":false},"axis":{"orient":"left","values":[0.3,0.4,0.6,0.7,0.8,0.9,1.1,1.2,1.3,1.4],"tickSize":-8,"labels":false,"domain":false,"title":null}}}},
{"data":{"values":[{"x":0.317,"y":0.2515},{"x":1.518,"y":1.392}]},"mark":{"type":"line","color":"black","strokeWidth":1.4,"strokeDash":[27,9]},
"encoding":{"x":{"field":"x","type":"quantitative","scale":{"domain":[0.25,1.518],"nice":false},"axis":{"orient":"top","values":[0.3,0.4,0.6,0.7,0.8,0.9,1.1,1.2,1.3,1.4],"tickSize":-8,"labels":false,"domain":false,"title":null}},
"y":{"field":"y","type":"quantitative","scale":{"domain":[0.252,1.516],"nice":false},"axis":{"orient":"right","values":[0.3,0.4,0.6,0.7,0.8,0.9,1.1,1.2,1.3,1.4],"tickSize":-8,"labels":false,"domain":false,"title":null}}}}
],"resolve":{"axis":{"x":"independent","y":"independent"}}},
{"spacing":0,"bounds":"flush","hconcat":[
{"width":249,"height":299,"layer":[
{"data":{"name":"mid"},"mark":{"type":"square","size":12,"color":"#FF8C00","opacity":1},
"encoding":{"x":{"field":"x","type":"quantitative","scale":{"domain":[17.56,25.52],"nice":false},"axis":{"orient":"bottom","values":[18,20,22,24],"format":"d","tickSize":-15,"labelPadding":26,"title":"K","titleFontSize":20,"titleX":116,"titleY":49,"titleBaseline":"middle"}},
"y":{"field":"y","type":"quantitative","scale":{"domain":[-0.42,0.418],"nice":false},"axis":{"orient":"left","values":[-0.4,-0.2,0,0.2,0.4],"format":"~g","tickSize":-15,"labelAngle":-90,"labelAlign":"center","labelBaseline":"bottom","labelPadding":23,"title":"Δz/(1+z)","titleX":-49,"titleY":157.5,"titleBaseline":"middle","titleAngle":-90}}}},
{"data":{"values":[{"x":17.56,"y":0.05,"s":"up"},{"x":25.52,"y":0.05,"s":"up"},{"x":17.56,"y":-0.05,"s":"low"},{"x":25.52,"y":-0.05,"s":"low"}]},"mark":{"type":"line","color":"black","strokeWidth":1.4,"strokeDash":[27,8]},
"encoding":{"detail":{"field":"s"},"x":{"field":"x","type":"quantitative","scale":{"domain":[17.56,25.52],"nice":false},"axis":{"orient":"top","values":[18,20,22,24],"tickSize":-15,"labels":false,"title":null}},
"y":{"field":"y","type":"quantitative","scale":{"domain":[-0.42,0.418],"nice":false},"axis":{"orient":"right","values":[-0.4,-0.2,0,0.2,0.4],"tickSize":-15,"labels":false,"title":null}}}},
{"data":{"values":[{"x":20.05,"lo":-0.05,"hi":0.048},{"x":21.36,"lo":-0.072,"hi":0.066},{"x":22.36,"lo":-0.067,"hi":0.062},{"x":23.43,"lo":-0.106,"hi":0.105}]},"mark":{"type":"rule","color":"#8B1A1A","strokeWidth":1.5},
"encoding":{"x":{"field":"x","type":"quantitative","scale":{"domain":[17.56,25.52],"nice":false},"axis":{"orient":"bottom","values":[18.5,19,19.5,20.5,21,21.5,22.5,23,23.5,24.5,25],"tickSize":-8,"labels":false,"domain":false,"title":"AB","titleFontSize":10,"titleFontWeight":"bold","titleX":132,"titleY":58,"titleBaseline":"middle"}},
"y":{"field":"lo","type":"quantitative","scale":{"domain":[-0.42,0.418],"nice":false},"axis":{"orient":"left","values":[-0.35,-0.3,-0.25,-0.15,-0.1,-0.05,0.05,0.1,0.15,0.25,0.3,0.35],"tickSize":-8,"labels":false,"domain":false,"title":null}},"y2":{"field":"hi"}}},
{"data":{"values":[{"x":20.05,"y":0},{"x":21.36,"y":0},{"x":22.36,"y":0},{"x":23.43,"y":0}]},"mark":{"type":"line","color":"#8B0000","strokeWidth":1.4},
"encoding":{"x":{"field":"x","type":"quantitative","scale":{"domain":[17.56,25.52],"nice":false},"axis":{"orient":"top","values":[18.5,19,19.5,20.5,21,21.5,22.5,23,23.5,24.5,25],"tickSize":-8,"labels":false,"domain":false,"title":null}},
"y":{"field":"y","type":"quantitative","scale":{"domain":[-0.42,0.418],"nice":false},"axis":{"orient":"right","values":[-0.35,-0.3,-0.25,-0.15,-0.1,-0.05,0.05,0.1,0.15,0.25,0.3,0.35],"tickSize":-8,"labels":false,"domain":false,"title":null}}}},
{"data":{"values":[{"x":20.05,"y":0},{"x":21.36,"y":0},{"x":22.36,"y":0},{"x":23.43,"y":0}]},"mark":{"type":"point","shape":"M-1,-1L1,1M-1,1L1,-1","filled":false,"size":170,"color":"#8B0000","strokeWidth":1.5,"opacity":1},
"encoding":{"x":{"field":"x","type":"quantitative","scale":{"domain":[17.56,25.52],"nice":false},"axis":null},"y":{"field":"y","type":"quantitative","scale":{"domain":[-0.42,0.418],"nice":false},"axis":null}}},
{"data":{"values":[{"x":18.0,"y":-0.34,"t":"Median 0.55%"}]},"mark":{"type":"text","font":"DejaVu Serif","fontSize":22,"align":"left","baseline":"middle","color":"black"},
"encoding":{"x":{"field":"x","type":"quantitative","scale":{"domain":[17.56,25.52],"nice":false},"axis":null},"y":{"field":"y","type":"quantitative","scale":{"domain":[-0.42,0.418],"nice":false},"axis":null},"text":{"field":"t"}}}
],"resolve":{"axis":{"x":"independent","y":"independent"}}},
{"width":132,"height":299,"layer":[
{"data":{"name":"hist"},"mark":{"type":"line","color":"#FF8C00","strokeWidth":2.5,"clip":false},
"encoding":{"order":{"field":"i"},"x":{"field":"c","type":"quantitative","scale":{"type":"log","domain":[0.75,588],"nice":false},"axis":{"orient":"bottom","values":[1,10,100],"format":"d","tickSize":-15,"labelPadding":26,"title":null}},
"y":{"field":"y","type":"quantitative","scale":{"domain":[-0.42,0.418],"nice":false},"axis":{"orient":"left","values":[-0.4,-0.2,0,0.2,0.4],"tickSize":-15,"labels":false,"title":null}}}},
{"data":{"values":[]},"mark":{"type":"line"},
"encoding":{"x":{"field":"c","type":"quantitative","scale":{"type":"log","domain":[0.75,588],"nice":false},"axis":{"orient":"top","values":[1,10,100],"tickSize":-15,"labels":false,"title":null}},
"y":{"field":"y","type":"quantitative","scale":{"domain":[-0.42,0.418],"nice":false},"axis":{"orient":"right","values":[-0.4,-0.2,0,0.2,0.4],"tickSize":-15,"labels":false,"title":null}}}},
{"data":{"values":[]},"mark":{"type":"line"},
"encoding":{"x":{"field":"c","type":"quantitative","scale":{"type":"log","domain":[0.75,588],"nice":false},"axis":{"orient":"bottom","values":[2,3,4,5,6,7,8,9,20,30,40,50,60,70,80,90,200,300,400,500],"tickSize":-8,"labels":false,"domain":false,"title":null}},
"y":{"field":"y","type":"quantitative","scale":{"domain":[-0.42,0.418],"nice":false},"axis":{"orient":"left","values":[-0.35,-0.3,-0.25,-0.15,-0.1,-0.05,0.05,0.1,0.15,0.25,0.3,0.35],"tickSize":-8,"labels":false,"domain":false,"title":null}}}},
{"data":{"values":[]},"mark":{"type":"line"},
"encoding":{"x":{"field":"c","type":"quantitative","scale":{"type":"log","domain":[0.75,588],"nice":false},"axis":{"orient":"top","values":[2,3,4,5,6,7,8,9,20,30,40,50,60,70,80,90,200,300,400,500],"tickSize":-8,"labels":false,"domain":false,"title":null}},
"y":{"field":"y","type":"quantitative","scale":{"domain":[-0.42,0.418],"nice":false},"axis":{"orient":"right","values":[-0.35,-0.3,-0.25,-0.15,-0.1,-0.05,0.05,0.1,0.15,0.25,0.3,0.35],"tickSize":-8,"labels":false,"domain":false,"title":null}}}}
],"resolve":{"axis":{"x":"independent","y":"independent"}}}
]}
]
}
